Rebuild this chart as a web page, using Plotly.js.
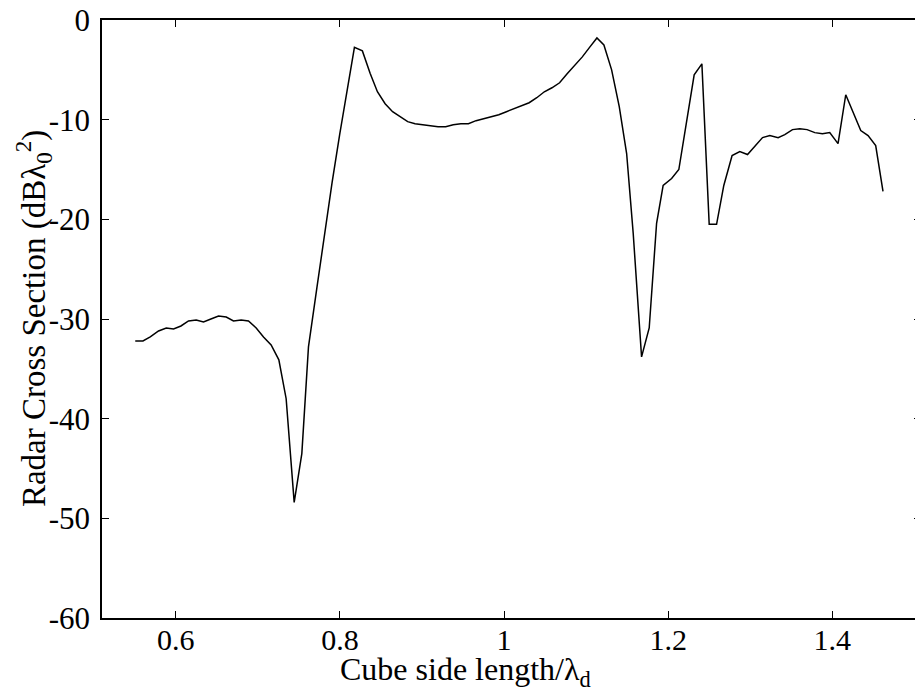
<!DOCTYPE html>
<html>
<head>
<meta charset="utf-8">
<script src="https://cdn.plot.ly/plotly-3.0.1.min.js"></script>
<style>
html,body{margin:0;padding:0;overflow:hidden;background:#fff;}
#chart{width:930px;height:689px;}
</style>
</head>
<body>
<div id="chart"></div>
<script>
// Cube side length / lambda_d
const sideLength = [
  0.5505, 0.5599, 0.5688, 0.5789, 0.5883, 0.5972, 0.6062, 0.6154, 0.6248, 0.6337,
  0.6427, 0.6520, 0.6614, 0.6702, 0.6796, 0.6885, 0.6979, 0.7068, 0.7161, 0.7255,
  0.7344, 0.7442, 0.7535, 0.7616, 0.7718, 0.7811, 0.7904, 0.7996, 0.8089, 0.8176,
  0.8273, 0.8367, 0.8456, 0.8550, 0.8641, 0.8732, 0.8825, 0.8915, 0.9010, 0.9102,
  0.9195, 0.9288, 0.9380, 0.9473, 0.9565, 0.9658, 0.9750, 0.9843, 0.9935, 1.0028,
  1.0120, 1.0213, 1.0305, 1.0398, 1.0490, 1.0583, 1.0676, 1.0768, 1.0861, 1.0953,
  1.1046, 1.1131, 1.1216, 1.1310, 1.1403, 1.1493, 1.1573, 1.1675, 1.1768, 1.1858,
  1.1938, 1.2041, 1.2129, 1.2223, 1.2316, 1.2410, 1.2499, 1.2589, 1.2677, 1.2778,
  1.2872, 1.2966, 1.3055, 1.3149, 1.3238, 1.3339, 1.3420, 1.3514, 1.3603, 1.3692,
  1.3786, 1.3879, 1.3968, 1.4069, 1.4163, 1.4252, 1.4346, 1.4435, 1.4528, 1.4617
];
// Radar cross section (dB lambda_0^2)
const rcs = [
  -32.2, -32.2, -31.8, -31.2, -30.9, -31.0, -30.7, -30.2, -30.1, -30.3,
  -30.0, -29.7, -29.8, -30.2, -30.1, -30.2, -30.9, -31.8, -32.6, -34.1,
  -38.0, -48.4, -43.5, -32.8, -26.9, -21.5, -16.3, -11.5, -6.9, -2.74,
  -3.1, -5.35, -7.2, -8.4, -9.2, -9.7, -10.2, -10.4, -10.5, -10.6,
  -10.7, -10.7, -10.5, -10.4, -10.4, -10.1, -9.9, -9.7, -9.5, -9.2,
  -8.9, -8.6, -8.3, -7.8, -7.2, -6.8, -6.3, -5.4, -4.6, -3.7,
  -2.7, -1.8, -2.5, -5.0, -8.7, -13.4, -21.4, -33.8, -30.9, -20.4,
  -16.6, -15.9, -15.0, -10.3, -5.5, -4.4, -20.5, -20.5, -16.6, -13.6,
  -13.2, -13.5, -12.7, -11.8, -11.6, -11.8, -11.5, -11.0, -10.9, -11.0,
  -11.3, -11.4, -11.3, -12.4, -7.5, -9.3, -11.1, -11.6, -12.6, -17.2
];
const xTickVals = [0.6, 0.8, 1.0, 1.2, 1.4];
const xTickText = ["0.6", "0.8", "1", "1.2", "1.4"];
const yTickVals = [0, -10, -20, -30, -40, -50, -60];
const yTickText = ["0", "-10", "-20", "-30", "-40", "-50", "-60"];
const xTitle = "Cube side length/λ<sub>d</sub>";
const yTitle = "Radar Cross Section (dBλ<sub>0</sub><sup>2</sup>)";

function mkFont(s) { return {family: "Liberation Serif", size: s, color: "#000000"}; }

Plotly.newPlot("chart", [{
  x: sideLength, y: rcs, type: "scatter", mode: "lines",
  line: {color: "#000000", width: 1.5}, hoverinfo: "skip"
}], {
  width: 930, height: 689,
  margin: {l: 102, r: 8.7, t: 20, b: 71, pad: 0},
  paper_bgcolor: "#ffffff", plot_bgcolor: "#ffffff",
  showlegend: false,
  font: mkFont(30),
  xaxis: {
    range: [0.51, 1.508], tickvals: xTickVals, ticktext: xTickText,
    ticks: "inside", ticklen: 7, tickwidth: 1.3, tickcolor: "#000000",
    showline: true, linecolor: "#000000", linewidth: 1.5, mirror: "ticks",
    showgrid: false, zeroline: false, tickfont: mkFont(30), ticklabelstandoff: -6
  },
  yaxis: {
    range: [-60, 0], tickvals: yTickVals, ticktext: yTickText,
    ticks: "inside", ticklen: 7, tickwidth: 1.3, tickcolor: "#000000",
    showline: true, linecolor: "#000000", linewidth: 1.5, mirror: "ticks",
    showgrid: false, zeroline: false, tickfont: mkFont(31), ticklabelstandoff: 4
  },
  annotations: [
    {text: xTitle, xref: "paper", yref: "paper", x: 0.444, y: -0.089,
     xanchor: "center", yanchor: "middle", showarrow: false, font: mkFont(32)},
    {text: yTitle, xref: "paper", yref: "paper", x: -0.0842, y: 0.5, textangle: -90,
     xanchor: "center", yanchor: "middle", showarrow: false, font: mkFont(33)}
  ]
}, {displayModeBar: false});
</script>
</body>
</html>
